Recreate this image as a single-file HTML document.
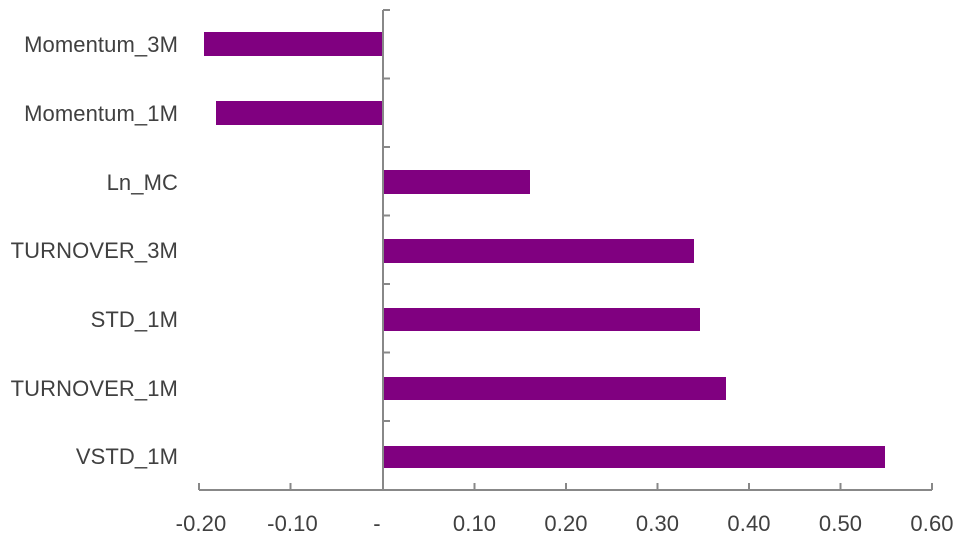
<!DOCTYPE html>
<html><head><style>
body{margin:0;background:#fff;}
svg text{font-family:"Liberation Sans",sans-serif;font-size:22px;letter-spacing:0.1px;fill:#404040;}
</style></head><body>
<svg width="969" height="543" xmlns="http://www.w3.org/2000/svg">
<g fill="#800080">
<rect x="204" y="32" width="179" height="24"/>
<rect x="216" y="101" width="167" height="24"/>
<rect x="383" y="170" width="147" height="24"/>
<rect x="383" y="239" width="311" height="24"/>
<rect x="383" y="308" width="317" height="23"/>
<rect x="383" y="377" width="343" height="23"/>
<rect x="383" y="446" width="502" height="22"/>
</g>
<g stroke="#888" stroke-width="2" fill="none">
<line x1="199" y1="490" x2="932" y2="490"/>
<line x1="383" y1="10" x2="383" y2="490"/>
<path d="M199 483V490M290.5 483V490M474.5 483V490M566 483V490M657.5 483V490M749 483V490M840.5 483V490M932 483V490"/>
<path d="M383 10H390M383 78.5H390M383 147H390M383 215.5H390M383 284H390M383 352.5H390M383 421H390"/>
</g>
<g text-anchor="end">
<text x="178" y="52">Momentum_3M</text>
<text x="178" y="121">Momentum_1M</text>
<text x="178" y="190">Ln_MC</text>
<text x="178" y="258">TURNOVER_3M</text>
<text x="178" y="327">STD_1M</text>
<text x="178" y="396">TURNOVER_1M</text>
<text x="178" y="464">VSTD_1M</text>
</g>
<g text-anchor="middle">
<text x="201" y="531">-0.20</text>
<text x="292.5" y="531">-0.10</text>
<text x="377" y="531">-</text>
<text x="474.5" y="531">0.10</text>
<text x="566" y="531">0.20</text>
<text x="657.5" y="531">0.30</text>
<text x="749" y="531">0.40</text>
<text x="840.5" y="531">0.50</text>
<text x="932" y="531">0.60</text>
</g>
</svg>
</body></html>
